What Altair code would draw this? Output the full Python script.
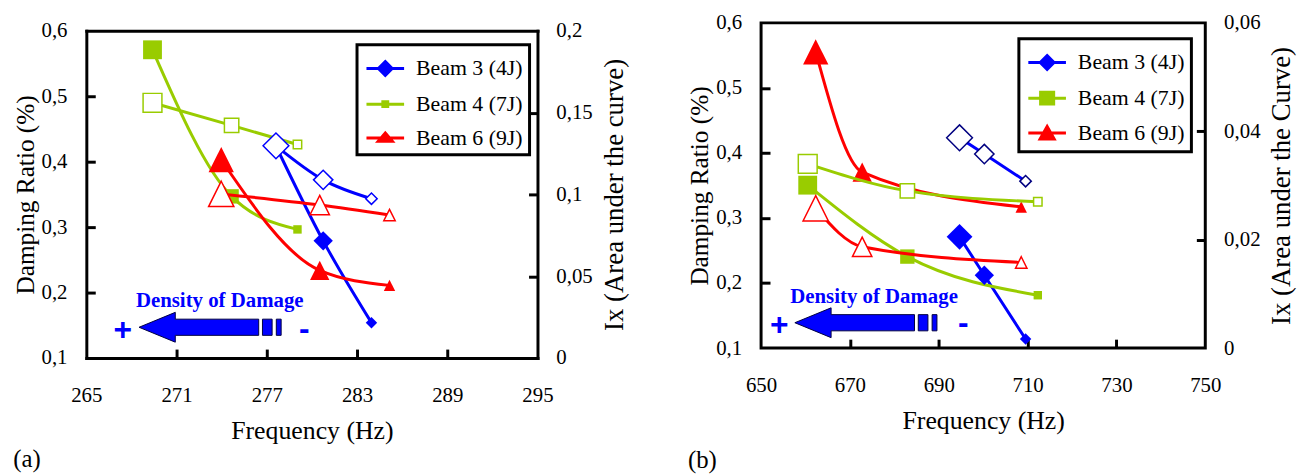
import altair as alt
import pandas as pd

# ---------------- data ----------------
BEAMS = ["Beam 3 (4J)", "Beam 4 (7J)", "Beam 6 (9J)"]

# panel (a)
A_FREQ_B3 = [277.61, 280.75, 283.96]
A_DAMP_B3 = [0.424, 0.279, 0.154]
A_IX_B3 = [0.1297, 0.1089, 0.0974]
A_FREQ_B4 = [269.40, 274.66, 279.04]
A_DAMP_B4 = [0.571, 0.347, 0.2965]
A_IX_B4 = [0.156, 0.1422, 0.1305]
A_FREQ_B6 = [273.97, 280.52, 285.16]
A_DAMP_B6 = [0.403, 0.234, 0.211]
A_IX_B6 = [0.1003, 0.0935, 0.0874]

# panel (b)
B_FREQ_B3 = [694.68, 700.26, 709.55]
B_DAMP_B3 = [0.271, 0.212, 0.114]
B_IX_B3 = [0.0388, 0.0358, 0.0308]
B_FREQ_B4 = [660.5, 682.93, 712.3]
B_DAMP_B4 = [0.3505, 0.2407, 0.1813]
B_IX_B4 = [0.034, 0.029, 0.027]
B_FREQ_B6 = [662.3, 672.76, 708.57]
B_DAMP_B6 = [0.5555, 0.3706, 0.317]
B_IX_B6 = [0.0258, 0.0187, 0.0158]

A_X_TICKS = [265, 271, 277, 283, 289, 295]
B_X_TICKS = [650, 670, 690, 710, 730, 750]
DAMP_TICKS = [0.1, 0.2, 0.3, 0.4, 0.5, 0.6]
A_IX_TICKS = [0, 0.05, 0.1, 0.15, 0.2]
B_IX_TICKS = [0, 0.02, 0.04, 0.06]

ANNOT_TEXT = "Density of Damage"
# annotation anchors in data space (frequency, damping ratio)
A_ANNOT = {"arrow": (273.23, 0.147), "label": (273.87, 0.1868), "plus": (267.42, 0.1424), "minus": (279.5, 0.144)}
B_ANNOT = {"arrow": (673.6, 0.139), "label": (675.44, 0.1788), "plus": (654.1, 0.1355), "minus": (695.5, 0.138)}

# ---------------- styles ----------------
SERIF = "Liberation Serif"
SANS = "Liberation Sans"
COLORS = ["#0000FF", "#99CC00", "#FF0000"]
TRI = "M0,-1L1,1L-1,1Z"
SHAPES = ["diamond", "square", TRI]
MARKER_PX = [[26, 19.5, 11.5], [19, 14.5, 8.5], [25.5, 19.5, 11.5]]

LINE = "M-1.15,0H1.15"
LEG_A = [LINE + "M0,-0.42L0.42,0L0,0.42L-0.42,0Z",
         LINE + "M-0.15,-0.15H0.15V0.15H-0.15Z",
         LINE + "M0,-0.3L0.43,0.2L-0.43,0.2Z"]
LEG_B = [LINE + "M0,-0.42L0.42,0L0,0.42L-0.42,0Z",
         LINE + "M-0.4,-0.36H0.4V0.36H-0.4Z",
         LINE + "M0,-0.39L0.43,0.37L-0.43,0.37Z"]

ARROW = ("M-1,0L-0.49,-0.21L-0.49,-0.114L0.684,-0.114L0.684,0.114L-0.49,0.114L-0.49,0.21Z"
         "M0.737,-0.114L0.873,-0.114L0.873,0.114L0.737,0.114Z"
         "M0.932,-0.114L1,-0.114L1,0.114L0.932,0.114Z")

DAMP_FMT = "replace(format(datum.value, '.1f'), '.', ',')"
IX_FMT = "replace(format(datum.value, '.2~f'), '.', ',')"


def tick_axis(orient, values):
    return alt.Axis(orient=orient, values=values, offset=-9, tickSize=9, tickWidth=3,
                    tickColor="black", labels=False, domain=False, grid=False, title=None)


def build_panel(letter, freqs, damps, ixs, x_ticks, ix_ticks, ix_title, leg_paths,
                leg_x, leg_y, annot, width, height, title_offset, b3_hollow, top_gap):
    rows = []
    for bi, beam in enumerate(BEAMS):
        for i, (f, d, q) in enumerate(zip(freqs[bi], damps[bi], ixs[bi])):
            rows.append({"beam": beam, "freq": f, "damp": d, "ix": q,
                         "msize": MARKER_PX[bi][i] ** 2})
    df = pd.DataFrame(rows)

    framed = top_gap > 0  # frame drawn by axis domains instead of the view stroke
    ax_common = dict(labelFont=SERIF, titleFont=SERIF, labelFontSize=21, labelColor="black",
                     titleColor="black", titleFontWeight="normal", grid=False, ticks=False,
                     labelFlush=False, labelOverlap=False, domain=framed)
    if framed:
        ax_common.update(domainWidth=3, domainColor="black", domainCap="square")

    yrange = {"range": [height, top_gap]} if framed else {}
    xscale = alt.Scale(domain=[x_ticks[0], x_ticks[-1]], nice=False, zero=False)
    dscale = alt.Scale(domain=[DAMP_TICKS[0], DAMP_TICKS[-1]], nice=False, zero=False, **yrange)
    iscale = alt.Scale(domain=[ix_ticks[0], ix_ticks[-1]], nice=False, zero=False, **yrange)
    color = alt.Color("beam:N", scale=alt.Scale(domain=BEAMS, range=COLORS), legend=None)
    shape = alt.Shape("beam:N", scale=alt.Scale(domain=BEAMS, range=SHAPES), legend=None)
    size = alt.Size("msize:Q", scale=None, legend=None)

    x_main = alt.X("freq:Q", scale=xscale,
                   axis=alt.Axis(orient="bottom", values=x_ticks, format="d",
                                 labelPadding=27, title="Frequency (Hz)", titlePadding=12,
                                 titleFontSize=26, **ax_common))
    y_left = alt.Y("damp:Q", scale=dscale,
                   axis=alt.Axis(orient="left", values=DAMP_TICKS, labelExpr=DAMP_FMT,
                                 labelPadding=19.5, title="Damping Ratio (%)",
                                 titlePadding=3, titleFontSize=25.5, **ax_common))
    y_right = alt.Y("ix:Q", scale=iscale,
                    axis=alt.Axis(orient="right", values=ix_ticks, labelExpr=IX_FMT,
                                  labelPadding=18.5, title=ix_title, titleAngle=270,
                                  titleBaseline="top", titlePadding=9, titleFontSize=27,
                                  **ax_common))

    base = alt.Chart(df)
    left = alt.layer(
        base.mark_line(interpolate="monotone", strokeWidth=3),
        base.mark_point(filled=True, opacity=1).encode(shape=shape, size=size),
    ).encode(x=x_main, y=y_left, color=color)

    hollow_color = color
    if b3_hollow:
        hollow_color = alt.condition(alt.datum.beam == BEAMS[0], alt.value(b3_hollow), color)
    right = alt.layer(
        base.mark_line(interpolate="monotone", strokeWidth=3).encode(color=color),
        base.mark_point(filled=False, fill="white", opacity=1, strokeWidth=1.5).encode(
            shape=shape, size=size, color=hollow_color),
    ).encode(x=alt.X("freq:Q", scale=xscale, axis=None), y=y_right)

    leg = alt.Legend(orient="none", legendX=leg_x, legendY=leg_y + top_gap, title=None,
                     labelFont=SERIF, labelFontSize=22, labelColor="black", labelLimit=0,
                     symbolSize=1089, symbolStrokeWidth=3, symbolOpacity=1,
                     symbolOffset=4.5, labelOffset=13, rowPadding=5,
                     strokeColor="black", padding=6, fillColor="white")
    if framed:
        top_axis = alt.Axis(orient="top", offset=-top_gap, domain=True, domainWidth=3,
                            domainColor="black", domainCap="square", labels=False,
                            ticks=False, grid=False, title=None)
    else:
        top_axis = None
    legend_layer = base.mark_point(filled=True, opacity=0).encode(
        x=alt.X("freq:Q", scale=xscale, axis=top_axis),
        y=alt.Y("ix:Q", scale=iscale, axis=tick_axis("right", ix_ticks[1:-1])),
        fill=alt.Fill("beam:N", scale=alt.Scale(domain=BEAMS, range=COLORS), legend=leg),
        stroke=alt.Stroke("beam:N", scale=alt.Scale(domain=BEAMS, range=COLORS), legend=leg),
        shape=alt.Shape("beam:N", scale=alt.Scale(domain=BEAMS, range=leg_paths), legend=leg),
    )

    def one(key):
        f, d = annot[key]
        return alt.Chart(pd.DataFrame({"f": [f], "d": [d]}))

    arrow = one("arrow").mark_point(shape=ARROW, size=143.3 ** 2, filled=True, fill="#0000FF",
                                    stroke="#000040", strokeWidth=1, opacity=1)
    label = one("label").mark_text(text=ANNOT_TEXT, font=SERIF, fontWeight="bold",
                                   fontSize=21, color="#0000FF")
    plus = one("plus").mark_text(text="+", font=SANS, fontWeight="bold",
                                 fontSize=32, color="#0000FF")
    minus = one("minus").mark_text(text="-", font=SANS, fontWeight="bold",
                                   fontSize=32, color="#0000FF")
    annot_layer = alt.layer(arrow, label, plus, minus).encode(
        x=alt.X("f:Q", scale=xscale, axis=tick_axis("bottom", x_ticks[1:-1])),
        y=alt.Y("d:Q", scale=dscale, axis=tick_axis("left", DAMP_TICKS[1:-1])),
    )

    props = dict(width=width, height=height,
                 title=alt.TitleParams(letter, orient="bottom", anchor="start", font=SERIF,
                                       fontSize=25, fontWeight="normal", color="black",
                                       offset=title_offset))
    if framed:
        props["view"] = alt.ViewBackground(stroke="transparent")
    panel = alt.layer(annot_layer, left, right, legend_layer).resolve_scale(
        y="independent", shape="independent", fill="independent", stroke="independent"
    ).resolve_axis(x="independent", y="independent").properties(**props)
    return panel


panel_a = build_panel(
    "(a)",
    [A_FREQ_B3, A_FREQ_B4, A_FREQ_B6], [A_DAMP_B3, A_DAMP_B4, A_DAMP_B6],
    [A_IX_B3, A_IX_B4, A_IX_B6], A_X_TICKS, A_IX_TICKS, "Ix (Area under the curve)",
    LEG_A, 273, 14, A_ANNOT, 455, 338, 4, None, 8)
panel_b = build_panel(
    "(b)",
    [B_FREQ_B3, B_FREQ_B4, B_FREQ_B6], [B_DAMP_B3, B_DAMP_B4, B_DAMP_B6],
    [B_IX_B3, B_IX_B4, B_IX_B6], B_X_TICKS, B_IX_TICKS, "Ix (Area under the Curve)",
    LEG_B, 260, 16, B_ANNOT, 448, 328, 15, "#000080", 0)

chart = alt.hconcat(panel_a, panel_b, spacing=57.5).resolve_scale(
    color="independent", shape="independent", fill="independent", stroke="independent"
).resolve_legend(
    fill="independent", stroke="independent", shape="independent"
).properties(
    padding={"left": 3, "top": 0, "right": 0, "bottom": 0}
).configure(
    font=SERIF
).configure_view(
    stroke="black", strokeWidth=3
).configure_axis(
    labelFont=SERIF, titleFont=SERIF, labelFontSize=21, titleFontSize=25.5,
    titleFontWeight="normal", labelColor="black", titleColor="black", grid=False
).configure_legend(
    strokeColor="black", strokeWidth=3, padding=6, fillColor="white"
)

chart.save("out.html", embed_options={"renderer": "svg", "actions": False})
